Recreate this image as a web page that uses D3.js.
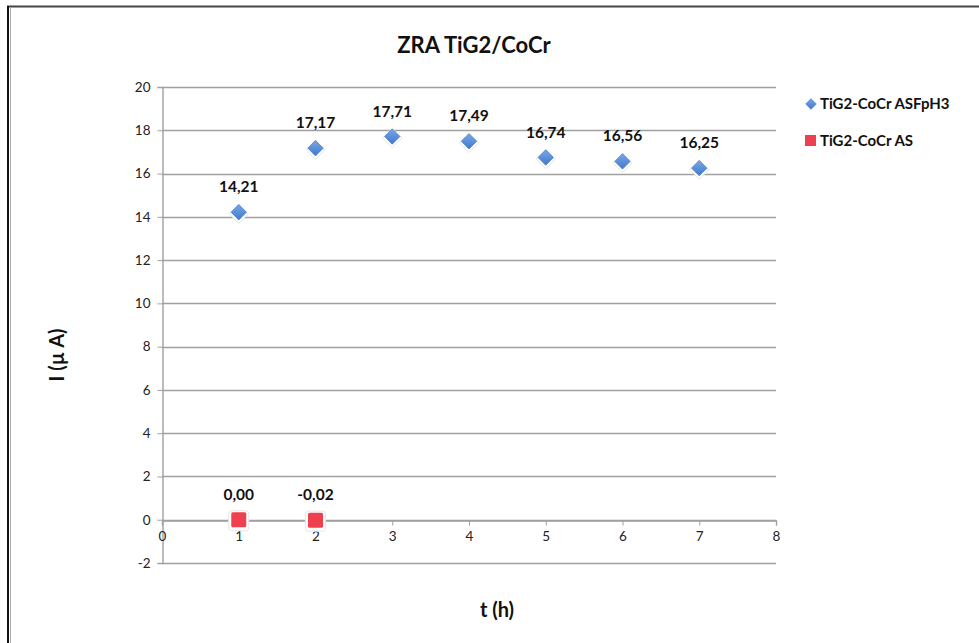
<!DOCTYPE html>
<html>
<head>
<meta charset="utf-8">
<script src="https://cdn.jsdelivr.net/npm/d3@7"></script>
<style>
  body { margin: 0; background: #fff; }
  svg { display: block; font-family: Lato, "Open Sans", sans-serif; }
</style>
</head>
<body>
<svg width="979" height="643"></svg>
<script>
// data
const hours = [1, 2, 3, 4, 5, 6, 7];
const asfph3Values = [14.21, 17.17, 17.71, 17.49, 16.74, 16.56, 16.25];
const asHours = [1, 2];
const asValues = [0.00, -0.02];
const xTicks = [0, 1, 2, 3, 4, 5, 6, 7, 8];
const yTicks = [-2, 0, 2, 4, 6, 8, 10, 12, 14, 16, 18, 20];
const seriesNames = ["TiG2-CoCr ASFpH3", "TiG2-CoCr AS"];

const svg = d3.select("svg");
const fmt = v => v.toFixed(2).replace(".", ",");

// frame lines on the top and left
svg.append("line").attr("x1", 7).attr("x2", 979).attr("y1", 6.5).attr("y2", 6.5)
  .attr("stroke", "#444").attr("stroke-width", 2);
svg.append("line").attr("x1", 8).attr("x2", 8).attr("y1", 6).attr("y2", 643)
  .attr("stroke", "#111").attr("stroke-width", 2);
svg.append("line").attr("x1", 10.5).attr("x2", 10.5).attr("y1", 7).attr("y2", 643)
  .attr("stroke", "#aaa").attr("stroke-width", 1);

// scales
const x = d3.scaleLinear().domain([0, 8]).range([162, 776]);
const y = d3.scaleLinear().domain([-2, 20]).range([563, 87]);

// gridlines
svg.append("g").selectAll("line").data(yTicks).join("line")
  .attr("x1", x(0)).attr("x2", x(8))
  .attr("y1", d => Math.round(y(d)) + 0.5).attr("y2", d => Math.round(y(d)) + 0.5)
  .attr("stroke", "#a0a0a0").attr("stroke-width", 1.4);

// y axis
const yAxis = svg.append("g")
  .attr("transform", `translate(${x(0) + 0.5},0)`)
  .call(d3.axisLeft(y).tickValues(yTicks).tickSize(5).tickPadding(7).tickFormat(d => d));
yAxis.select(".domain").attr("stroke", "#a0a0a0").attr("stroke-width", 1.4);
yAxis.selectAll(".tick line").attr("stroke", "#a0a0a0");
yAxis.selectAll("text").attr("font-size", 13.5).attr("fill", "#222")
  .attr("font-family", "Lato, sans-serif");

// x axis at y = 0
const xAxis = svg.append("g")
  .attr("transform", `translate(0,${Math.round(y(0)) + 0.5})`)
  .call(d3.axisBottom(x).tickValues(xTicks).tickSize(5).tickPadding(6).tickFormat(d => d));
xAxis.select(".domain").attr("stroke", "#a0a0a0").attr("stroke-width", 1.4);
xAxis.selectAll(".tick line").attr("stroke", "#a0a0a0");
xAxis.selectAll("text").attr("font-size", 13.5).attr("fill", "#222")
  .attr("font-family", "Lato, sans-serif");

// gradient for diamonds
const defs = svg.append("defs");
const grad = defs.append("linearGradient").attr("id", "blueGrad")
  .attr("x1", 0).attr("y1", 0).attr("x2", 0).attr("y2", 1);
grad.append("stop").attr("offset", "0%").attr("stop-color", "#7aa7e6");
grad.append("stop").attr("offset", "100%").attr("stop-color", "#3f78cc");

const diamond = d3.symbol().type(d3.symbolDiamond2).size(150);

// series 1: diamonds
const s1 = hours.map((h, i) => ({ h, v: asfph3Values[i] }));
svg.append("g").selectAll("path.halo").data(s1).join("path")
  .attr("transform", d => `translate(${x(d.h)},${y(d.v) + 1.5})`)
  .attr("d", d3.symbol().type(d3.symbolDiamond2).size(240))
  .attr("fill", "#fff").attr("stroke", "#e6e6e6");
svg.append("g").selectAll("path.pt").data(s1).join("path")
  .attr("transform", d => `translate(${x(d.h)},${y(d.v)})`)
  .attr("d", diamond)
  .attr("fill", "url(#blueGrad)").attr("stroke", "#4a7fc9").attr("stroke-width", 0.8);
svg.append("g").selectAll("text").data(s1).join("text")
  .attr("x", d => x(d.h)).attr("y", d => y(d.v) - 20)
  .attr("text-anchor", "middle").attr("font-size", 15.5).attr("font-weight", "bold")
  .attr("fill", "#111").text(d => fmt(d.v));

// series 2: squares
const s2 = asHours.map((h, i) => ({ h, v: asValues[i] }));
svg.append("g").selectAll("rect.halo").data(s2).join("rect")
  .attr("x", d => x(d.h) - 10).attr("y", d => y(d.v) - 9)
  .attr("width", 20).attr("height", 20).attr("rx", 3)
  .attr("fill", "#fff").attr("stroke", "#e6e6e6");
svg.append("g").selectAll("rect.pt").data(s2).join("rect")
  .attr("x", d => x(d.h) - 7.5).attr("y", d => y(d.v) - 7.5)
  .attr("width", 15).attr("height", 15).attr("rx", 1.5)
  .attr("fill", "#ef4050");
svg.append("g").selectAll("text").data(s2).join("text")
  .attr("x", d => x(d.h)).attr("y", d => y(d.v) - 20)
  .attr("text-anchor", "middle").attr("font-size", 15.5).attr("font-weight", "bold")
  .attr("fill", "#111").text(d => fmt(d.v));

// title and axis titles
svg.append("text").attr("x", 474).attr("y", 53).attr("text-anchor", "middle")
  .attr("font-size", 22).attr("font-weight", "bold").attr("fill", "#111")
  .text("ZRA TiG2/CoCr");
svg.append("text").attr("x", 497).attr("y", 617).attr("text-anchor", "middle")
  .attr("font-size", 20).attr("font-weight", "bold").attr("fill", "#111")
  .text("t (h)");
svg.append("text").attr("transform", "translate(64,355) rotate(-90)")
  .attr("text-anchor", "middle")
  .attr("font-size", 20).attr("font-weight", "bold").attr("fill", "#111")
  .text("I (µ A)");

// legend
const legend = svg.append("g");
legend.append("path").attr("transform", "translate(811,104)")
  .attr("d", d3.symbol().type(d3.symbolDiamond2).size(70))
  .attr("fill", "url(#blueGrad)").attr("stroke", "#4a7fc9").attr("stroke-width", 0.8);
legend.append("rect").attr("x", 805).attr("y", 135).attr("width", 11).attr("height", 11)
  .attr("fill", "#ef4050");
legend.selectAll("text").data(seriesNames).join("text")
  .attr("x", 820).attr("y", (d, i) => 109 + i * 37)
  .attr("font-size", 15).attr("font-weight", "bold").attr("fill", "#111")
  .text(d => d);
</script>
</body>
</html>
